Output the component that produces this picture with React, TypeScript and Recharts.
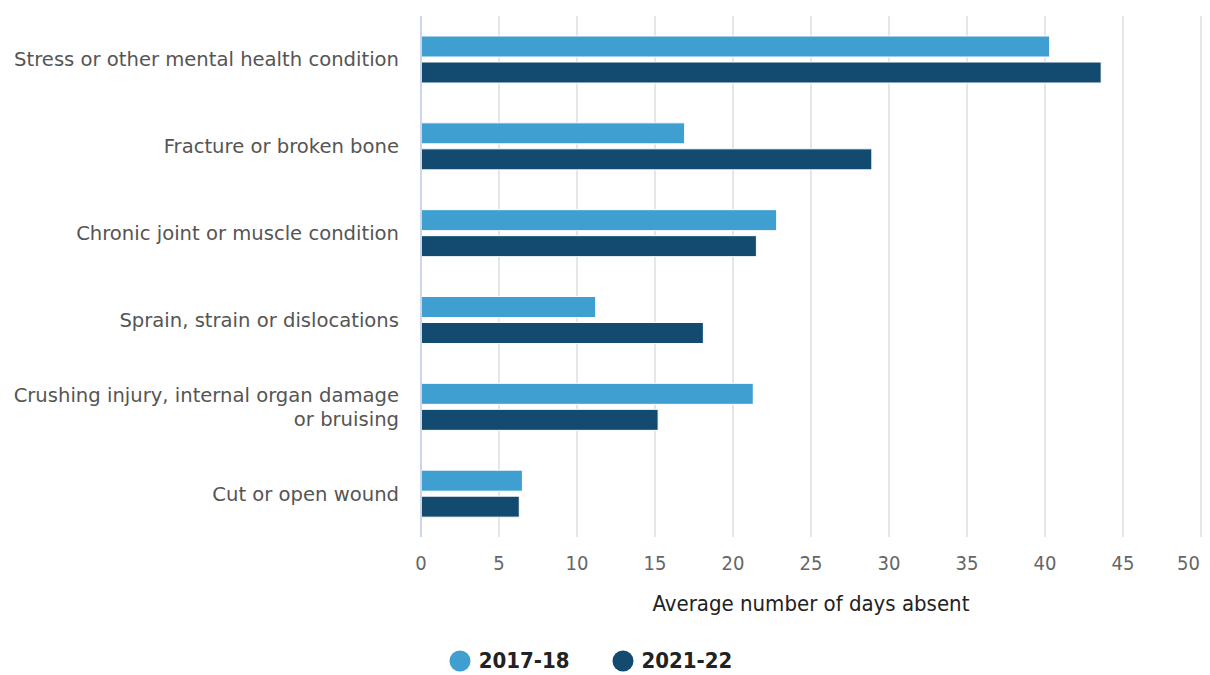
import React from "react";
import { BarChart, Bar, XAxis, YAxis, CartesianGrid, Legend } from "recharts";

const categories = [
  "Stress or other mental health condition",
  "Fracture or broken bone",
  "Chronic joint or muscle condition",
  "Sprain, strain or dislocations",
  "Crushing injury, internal organ damage or bruising",
  "Cut or open wound",
];
const values2017 = [40.3, 16.9, 22.8, 11.2, 21.3, 6.5];
const values2021 = [43.6, 28.9, 21.5, 18.1, 15.2, 6.3];
const xTicks = [0, 5, 10, 15, 20, 25, 30, 35, 40, 45, 50];
const seriesNames = ["2017-18", "2021-22"];
const seriesColors = ["#3f9fd1", "#134b70"];

const data = categories.map((c, i) => ({
  category: c,
  a: values2017[i],
  b: values2021[i],
}));

function wrap(text: string, max: number): string[] {
  const words = text.split(" ");
  const lines: string[] = [];
  let cur = "";
  for (const w of words) {
    const next = cur ? cur + " " + w : w;
    if (next.length > max && cur) {
      lines.push(cur);
      cur = w;
    } else cur = next;
  }
  if (cur) lines.push(cur);
  return lines;
}

const YTick = (props: any) => {
  const { x, y, payload } = props;
  const lines = wrap(payload.value, 40);
  const lh = 24;
  const start = y - ((lines.length - 1) * lh) / 2;
  return (
    <text
      x={x}
      y={start}
      textAnchor="end"
      dominantBaseline="central"
      fill="#555"
      fontSize={19.6}
      fontFamily="DejaVu Sans"
    >
      {lines.map((l, i) => (
        <tspan key={i} x={x} y={start + i * lh} dominantBaseline="central">
          {l}
        </tspan>
      ))}
    </text>
  );
};

const XTick = (props: any) => {
  const { x, y, payload } = props;
  const last = payload.value === xTicks[xTicks.length - 1];
  return (
    <text
      x={last ? x - 1 : x}
      y={y}
      textAnchor={last ? "end" : "middle"}
      dominantBaseline="central"
      fill="#666"
      fontSize={20}
      fontFamily="DejaVu Sans Condensed"
    >
      {payload.value}
    </text>
  );
};

const LegendContent = () => (
  <div
    style={{
      display: "flex",
      justifyContent: "center",
      alignItems: "center",
      gap: 42,
      fontFamily: "DejaVu Sans Condensed",
      fontWeight: "bold",
      fontSize: 22,
      color: "#222",
      paddingRight: 20,
    }}
  >
    {seriesNames.map((n, i) => (
      <div key={n} style={{ display: "flex", alignItems: "center", gap: 8 }}>
        <svg width={22} height={22}>
          <circle cx={11} cy={11} r={10.5} fill={seriesColors[i]} />
        </svg>
        <span>{n}</span>
      </div>
    ))}
  </div>
);

export default function App() {
  return (
    <div style={{ position: "absolute", left: 0, top: 0, width: 1210, height: 675, background: "#fff" }}>
      <BarChart
        width={1210}
        height={675}
        data={data}
        layout="vertical"
        margin={{ top: 16, right: 9, left: 0, bottom: 0 }}
        barSize={21}
        barGap={5}
      >
        <CartesianGrid horizontal={false} stroke="#e6e6e6" strokeWidth={2} />
        <XAxis
          type="number"
          domain={[0, 50]}
          ticks={xTicks}
          axisLine={false}
          tickLine={false}
          tickMargin={20}
          height={113}
          tick={<XTick />}
          label={{
            value: "Average number of days absent",
            position: "insideTop",
            offset: 58,
            fill: "#222",
            fontSize: 22,
            fontFamily: "DejaVu Sans Condensed",
          }}
        />
        <YAxis
          type="category"
          dataKey="category"
          width={421}
          axisLine={{ stroke: "#ccd6eb", strokeWidth: 2 }}
          tickLine={false}
          tickMargin={16}
          tick={<YTick />}
          interval={0}
        />
        <Bar dataKey="a" name={seriesNames[0]} fill={seriesColors[0]} stroke="#fff" strokeWidth={1} isAnimationActive={false} />
        <Bar dataKey="b" name={seriesNames[1]} fill={seriesColors[1]} stroke="#fff" strokeWidth={1} isAnimationActive={false} />
        <Legend verticalAlign="bottom" content={<LegendContent />} wrapperStyle={{ bottom: 2 }} />
      </BarChart>
    </div>
  );
}
